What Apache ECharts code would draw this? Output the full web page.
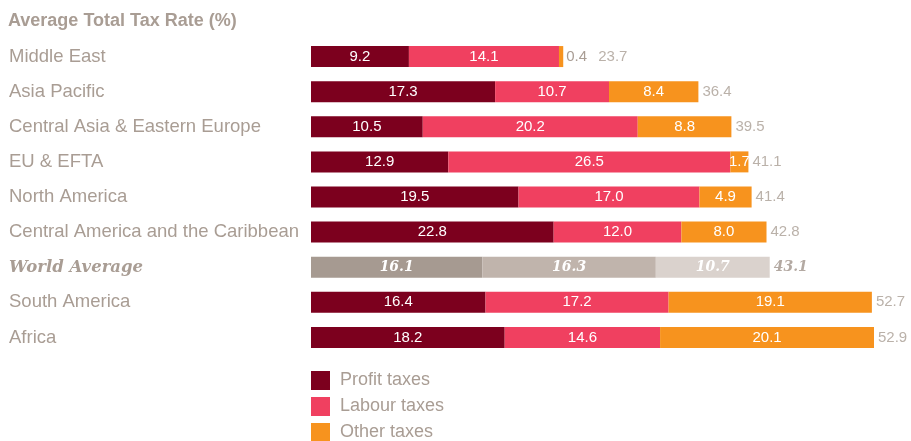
<!DOCTYPE html>
<html>
<head>
<meta charset="utf-8">
<script src="https://cdn.jsdelivr.net/npm/echarts@6/dist/echarts.min.js"></script>
<style>
  html, body { margin: 0; padding: 0; background: #fff; }
  #chart { width: 911px; height: 441px; }
</style>
</head>
<body>
<div id="chart"></div>
<script>
// data
var regions = ['Middle East', 'Asia Pacific', 'Central Asia & Eastern Europe', 'EU & EFTA',
  'North America', 'Central America and the Caribbean', 'World Average', 'South America', 'Africa'];
var profitTaxes = [9.2, 17.3, 10.5, 12.9, 19.5, 22.8, 16.1, 16.4, 18.2];
var labourTaxes = [14.1, 10.7, 20.2, 26.5, 17.0, 12.0, 16.3, 17.2, 14.6];
var otherTaxes = [0.4, 8.4, 8.8, 1.7, 4.9, 8.0, 10.7, 19.1, 20.1];
var totalRate = [23.7, 36.4, 39.5, 41.1, 41.4, 42.8, 43.1, 52.7, 52.9];

var grey = '#a99d94';
var worldIdx = regions.indexOf('World Average');
var worldColors = ['#a69a91', '#c0b4ac', '#dad2cd'];
var serifBold = { fontFamily: 'DejaVu Serif', fontStyle: 'italic', fontWeight: 'bold', fontSize: 14 };

// build one stacked series; World Average gets grey colours + serif labels
function makeSeries(name, values, color, k) {
  return {
    name: name,
    type: 'bar',
    stack: 'tax',
    barWidth: 21,
    itemStyle: { color: color },
    label: {
      show: true, position: 'inside', color: '#fff',
      fontSize: 15, fontFamily: 'Liberation Sans',
      formatter: function (p) { return p.value.toFixed(1); }
    },
    data: values.map(function (v, i) {
      if (i === worldIdx) {
        return { value: v, itemStyle: { color: worldColors[k] }, label: serifBold };
      }
      return v;
    })
  };
}

var other = makeSeries('Other taxes', otherTaxes, '#f7931e', 2);
// tiny Middle East segment: value sits right of the bar
other.data[0] = { value: otherTaxes[0], label: { position: 'right', distance: 3, color: grey } };

var option = {
  animation: false,
  title: {
    text: 'Average Total Tax Rate (%)',
    left: 8, top: 12, padding: 0,
    textStyle: { color: grey, fontSize: 18, fontWeight: 'bold', fontFamily: 'Liberation Sans' }
  },
  legend: {
    data: ['Profit taxes', 'Labour taxes', 'Other taxes'],
    orient: 'vertical',
    left: 311, top: 371, height: 90, padding: 0,
    icon: 'rect',
    itemWidth: 19, itemHeight: 19, itemGap: 7,
    textStyle: { color: grey, fontSize: 18, fontFamily: 'Liberation Sans', padding: [0, 0, 0, 5] }
  },
  grid: { left: 311, right: 4, top: 39, bottom: 86 },
  xAxis: {
    type: 'value', min: 0, max: 56,
    show: false
  },
  yAxis: {
    type: 'category',
    data: regions,
    inverse: true,
    axisLine: { show: false },
    axisTick: { show: false },
    axisLabel: {
      align: 'left', margin: 302,
      color: grey, fontSize: 18.5, fontFamily: 'Liberation Sans',
      formatter: function (v) { return v === 'World Average' ? '{w|' + v + '}' : v; },
      rich: {
        w: { color: grey, fontFamily: 'DejaVu Serif', fontStyle: 'italic', fontWeight: 'bold', fontSize: 16.5 }
      }
    }
  },
  series: [
    makeSeries('Profit taxes', profitTaxes, '#7c001e', 0),
    makeSeries('Labour taxes', labourTaxes, '#f04060', 1),
    other,
    {
      name: 'Total',
      type: 'scatter',
      symbolSize: 0,
      silent: true,
      label: {
        show: true, position: 'right', distance: 4,
        color: grey, fontSize: 15, fontFamily: 'Liberation Sans',
        formatter: function (p) { return p.value[0].toFixed(1); }
      },
      data: totalRate.map(function (t, i) {
        var item = { value: [t, regions[i]] };
        if (i === 0) item.label = { offset: [31, 0] };
        if (i === worldIdx) item.label = Object.assign({ color: '#a0948b' }, serifBold);
        return item;
      })
    }
  ]
};

var myChart = echarts.init(document.getElementById('chart'));
myChart.setOption(option);
</script>
</body>
</html>
